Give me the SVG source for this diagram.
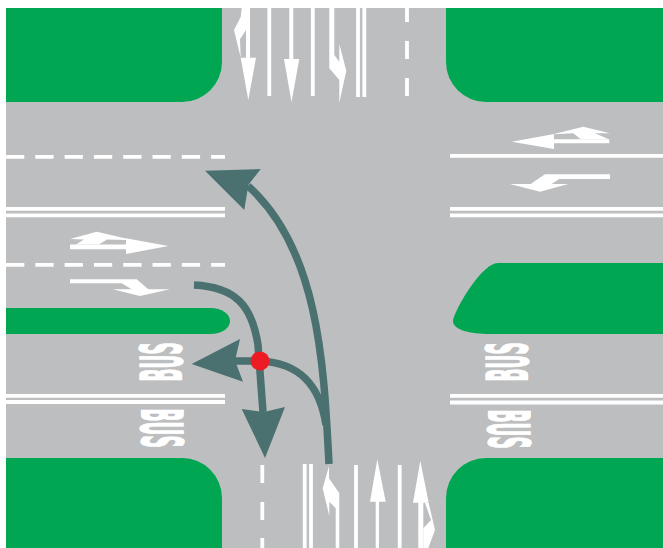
<svg xmlns="http://www.w3.org/2000/svg" width="663" height="548" viewBox="0 0 663 548">
<style>
.g{fill:#00a651}
.w{fill:#fff}
.l{stroke:#fff;fill:none}
.bus{font-family:"DejaVu Sans",sans-serif;font-weight:700;font-size:57px;fill:#fff;stroke:#fff;stroke-width:1.5}
.t{stroke:#4a7070;stroke-width:7.5;fill:none}
.h{fill:#4a7070}
</style>
<rect width="663" height="548" fill="#fff"/>
<rect x="6" y="8" width="657" height="540" fill="#bcbec0"/>
<g id="islands">
<path class="g" d="M6,8H222V62A40,40 0 0 1 182,102H6Z"/>
<path class="g" d="M663,8H446V62A40,40 0 0 0 486,102H663Z"/>
<path class="g" d="M6,548H222V498A40,40 0 0 0 182,458H6Z"/>
<path class="g" d="M663,548H446V498A40,40 0 0 1 486,458H663Z"/>
<path class="g" d="M6,308H210C222,308 230,314 230,321C230,328 222,334 210,334H6Z"/>
<path class="g" d="M498,263H663V334H490C470,334 453,330 453,321C453,313 481,263 498,263Z"/>
</g>
<g id="lines">
<path class="l" stroke-width="3.8" d="M6,156.800H225M6,264.800H225" stroke-dasharray="18.300 11"/>
<path class="l" stroke-width="3.800" d="M6,208.800H225M6,215.300H225M6,395.800H225M6,402H225M450,155.800H663M450,208.800H663M450,215.300H663M450,395.800H663M450,402.500H663"/>
<path class="l" stroke-width="3.800" d="M269.300,8V96M312.800,8V96M358,8V97M364.300,8V97M304.700,464V548M311,464V548M356,465V548M399.700,465V548"/>
<path class="l" stroke-width="3.800" d="M407,8V22M407,41V59M407,78V96M262.300,465V483M262.300,502V520M262.300,538V548"/>
</g>
<g id="markings">
<path class="w" d="M241.700,8H250V57.700H256L248.300,100L240.700,57.700H246V30L240,39.300L240.700,57.700L234,30L240.700,17Z"/>
<path class="w" d="M289.300,8H293.300V59H299.300L291.500,102L284,59H289.300Z"/>
<path class="w" d="M329.300,8H334.300V55L339.300,61.700V44L346.300,70.700L339.300,102.700V80L329.300,68.300Z"/>
<path class="w" d="M335.700,548H339.300V493.300L329,478.300V466L322.700,488.300L329.300,516V501.700L335.700,508.300Z"/>
<path class="w" d="M375.700,548H379V501.700H385.700L377.300,459.300L370,501.700H375.700Z"/>
<path class="w" d="M418.300,548H423.300V502.700H428.700L420.300,460.700L413,502.700H418.300Z"/>
<path class="w" d="M425,503H428.700L435,530L428.300,548H423.300V528.300L431,520Z"/>
<path class="w" d="M168.300,246L126,238.300V254Z"/>
<path class="w" d="M70,244.500H127V249.300H70Z"/>
<path class="w" d="M70,239L96.700,231.700L126,238.500V240L107,239.500L99,244.500H76L84,239.500Z"/>
<path class="w" d="M70,279.300H136.700L148.300,289.300H170L140,296L112.700,289.300H131.700L121.700,283.300H70Z"/>
<path class="w" d="M511.700,141.700L554,134V149Z"/>
<path class="w" d="M553,139.300H609.300V143.300H553Z"/>
<path class="w" d="M554,134L583.300,126.700L610,133.300H595L608.700,139.300H580.700L573.300,133.300L555,134.300Z"/>
<path class="w" d="M610,174.300V179H559.300L551.700,184H568.300L540,191.700L510,184H530.700L545,174.300Z"/>
</g>
<g id="bus-text">
<text class="bus" transform="translate(181.500,381.500) rotate(-90) scale(0.3,1)">BUS</text>
<text class="bus" transform="translate(140.500,408.500) rotate(90) scale(0.3,1)">BUS</text>
<text class="bus" transform="translate(527.500,381.500) rotate(-90) scale(0.3,1)">BUS</text>
<text class="bus" transform="translate(487.500,409.500) rotate(90) scale(0.3,1)">BUS</text>
</g>
<g id="connectors">
<path class="t" d="M329,464C324,370 320,250 248,186"/>
<path class="h" d="M205,170.700L260.700,169L248.300,185L244.300,210Z"/>
<path class="t" d="M326,425C320,385 300,363 260,361H232"/>
<path class="h" d="M191.700,364L240,339L235,360.700L243,381.700Z"/>
<path class="t" d="M194,285C235,287 252,305 258,345L263,412"/>
<path class="h" d="M265,458L241.700,409L264,412L285,407Z"/>
</g>
<g id="junction"><circle cx="260" cy="361" r="9.500" fill="#ed1c24"/></g>
</svg>
